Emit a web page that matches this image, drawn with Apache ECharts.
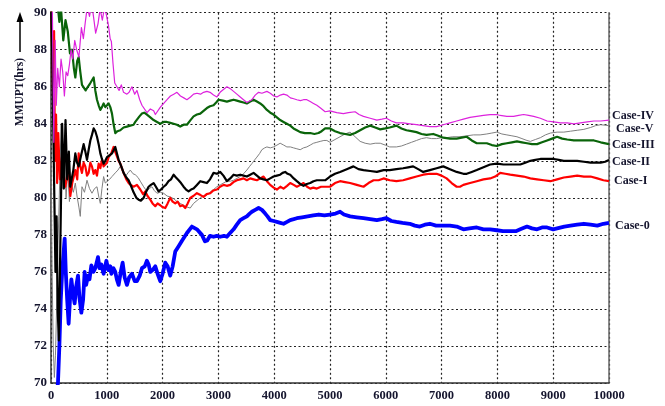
<!DOCTYPE html>
<html>
<head>
<meta charset="utf-8">
<script src="https://cdn.jsdelivr.net/npm/echarts@6/dist/echarts.min.js"></script>
<style>
html,body{margin:0;padding:0;background:#fff;}
#chart{width:665px;height:406px;}
</style>
</head>
<body>
<div id="chart"></div>
<script>
const seriesNames = ["Case-0", "Case-I", "Case-II", "Case-III", "Case-IV", "Case-V"];
const xTicks = [0, 1000, 2000, 3000, 4000, 5000, 6000, 7000, 8000, 9000, 10000];
const yTicks = [70, 72, 74, 76, 78, 80, 82, 84, 86, 88, 90];
const yTitle = "MMUPT(hrs)";

const case0 = [[100,69.5],[125,70],[150,72],[175,74.5],[200,76],[225,77],[245,77.8],[265,76],[290,74.5],[316,73.2],[340,74.5],[365,75.6],[395,74.8],[424,74.3],[450,75.2],[484,75.8],[510,74.6],[544,73.8],[575,74.5],[603,76.0],[630,75.3],[663,75.8],[690,75.6],[723,76.35],[760,76.0],[794,76.2],[842,76.8],[870,76.2],[902,76.4],[943,75.9],[992,76.6],[1030,76.1],[1063,76.3],[1082,75.9],[1120,76.2],[1152,76.0],[1180,75.6],[1212,75.3],[1250,76.0],[1284,76.5],[1320,75.7],[1361,75.3],[1400,75.7],[1451,75.9],[1500,75.5],[1540,75.5],[1590,75.8],[1630,76.2],[1680,76.3],[1719,76.6],[1750,76.4],[1779,76.0],[1820,76.1],[1869,76.3],[1910,75.9],[1958,75.5],[2000,75.9],[2048,76.5],[2090,76.3],[2137,75.8],[2180,76.3],[2227,77.1],[2290,77.4],[2350,77.7],[2436,78.1],[2525,78.45],[2615,78.3],[2704,78.0],[2760,77.65],[2800,77.7],[2850,77.95],[2913,77.9],[2970,77.95],[3033,77.9],[3100,77.95],[3152,77.9],[3210,78.1],[3272,78.3],[3330,78.55],[3391,78.8],[3450,78.9],[3510,79.0],[3560,79.15],[3600,79.25],[3660,79.35],[3720,79.45],[3780,79.35],[3839,79.15],[3880,79.0],[3928,78.8],[3990,78.75],[4048,78.7],[4110,78.65],[4167,78.6],[4230,78.7],[4287,78.8],[4350,78.85],[4406,78.9],[4500,78.95],[4600,79.0],[4700,79.05],[4800,79.1],[4900,79.05],[5000,79.1],[5100,79.15],[5180,79.25],[5250,79.1],[5360,79.0],[5480,78.95],[5600,78.9],[5720,78.85],[5840,78.8],[5930,78.85],[6010,78.9],[6100,78.75],[6190,78.7],[6300,78.65],[6430,78.6],[6520,78.5],[6610,78.45],[6700,78.55],[6790,78.6],[6900,78.5],[7030,78.5],[7150,78.5],[7270,78.45],[7390,78.3],[7500,78.35],[7630,78.4],[7750,78.3],[7870,78.3],[7990,78.25],[8100,78.2],[8230,78.2],[8330,78.2],[8410,78.3],[8530,78.45],[8620,78.35],[8710,78.3],[8800,78.4],[8890,78.4],[9000,78.3],[9070,78.35],[9200,78.45],[9310,78.5],[9430,78.55],[9550,78.6],[9670,78.55],[9790,78.5],[9900,78.6],[10000,78.65]];

const case1 = [[0,91],[20,88],[40,85],[55,89],[70,82],[90,84.5],[110,80.8],[130,83.5],[160,81],[197,82.2],[230,81],[257,80.6],[290,81.2],[316,81.7],[346,80.1],[380,80.8],[436,81.5],[470,81.0],[496,82.4],[525,81.7],[555,81.35],[585,81.9],[615,81.7],[645,81.2],[675,81.35],[705,81.9],[734,81.7],[764,81.3],[794,81.5],[824,81.2],[854,81.85],[884,81.6],[913,82.05],[943,81.7],[973,81.6],[1003,81.9],[1033,82.2],[1080,82.4],[1122,82.75],[1150,82.5],[1182,82.4],[1212,82.0],[1242,81.85],[1270,81.6],[1301,81.35],[1350,81.0],[1391,80.8],[1430,80.7],[1480,80.6],[1540,80.7],[1600,80.45],[1650,80.2],[1690,80.35],[1730,80.1],[1779,79.9],[1820,79.7],[1869,79.55],[1910,79.7],[1958,79.6],[2000,79.5],[2048,79.45],[2090,79.7],[2137,80.0],[2180,79.8],[2227,79.7],[2270,79.8],[2316,79.55],[2360,79.6],[2406,79.45],[2450,79.7],[2495,80.0],[2550,80.1],[2615,80.25],[2680,80.15],[2734,80.05],[2790,80.2],[2854,80.25],[2910,80.4],[2973,80.45],[3030,80.6],[3093,80.7],[3150,80.65],[3212,80.7],[3270,80.85],[3331,80.95],[3390,81.0],[3451,81.05],[3510,80.95],[3570,81.05],[3630,81.0],[3690,80.95],[3750,81.05],[3809,81.15],[3870,80.9],[3928,80.7],[3990,80.55],[4048,80.45],[4110,80.6],[4167,80.5],[4230,80.65],[4287,80.8],[4350,80.7],[4406,80.6],[4470,80.7],[4525,80.8],[4590,80.6],[4645,80.5],[4700,80.55],[4764,80.5],[4840,80.6],[4913,80.6],[5000,80.6],[5090,80.8],[5180,80.9],[5270,80.85],[5360,80.8],[5480,80.7],[5600,80.6],[5690,80.8],[5780,80.95],[5870,80.95],[5960,81.05],[6070,80.95],[6190,80.9],[6310,80.95],[6430,81.05],[6550,81.15],[6670,81.25],[6790,81.3],[6910,81.3],[7000,81.2],[7090,81.05],[7180,80.8],[7270,80.6],[7330,80.6],[7390,80.7],[7510,80.8],[7630,80.9],[7750,81.0],[7870,81.05],[7960,81.15],[8050,81.35],[8140,81.3],[8230,81.25],[8350,81.2],[8470,81.15],[8590,81.05],[8710,81.0],[8830,80.95],[8950,80.9],[9070,81.0],[9190,81.1],[9310,81.15],[9430,81.2],[9550,81.15],[9670,81.15],[9790,81.05],[9900,80.95],[10000,80.9]];

const case2 = [[0,90.5],[20,88],[40,84],[60,80],[80,76],[100,79],[120,74],[140,72.3],[160,76],[180,80],[200,84],[230,80.5],[260,84.2],[290,81],[320,82.5],[345,80.6],[376,80.6],[400,81.5],[436,82.4],[466,81.9],[496,81.7],[540,82.3],[585,82.9],[615,82.5],[645,82.05],[675,82.6],[705,83.1],[734,83.4],[764,83.75],[794,83.6],[824,83.3],[854,82.9],[884,82.4],[913,82.1],[943,81.85],[973,82.0],[1003,82.2],[1050,82.3],[1093,82.4],[1122,82.5],[1152,82.75],[1182,82.4],[1212,82.05],[1260,81.7],[1301,81.35],[1350,81.1],[1391,80.95],[1440,80.6],[1480,80.3],[1530,80.0],[1570,79.9],[1610,79.85],[1660,80.0],[1700,80.3],[1749,80.6],[1790,80.7],[1839,80.8],[1880,80.6],[1928,80.35],[1970,80.45],[2018,80.6],[2060,80.7],[2107,80.9],[2150,81.0],[2197,81.25],[2240,81.1],[2287,80.95],[2330,80.8],[2376,80.6],[2420,80.45],[2466,80.35],[2510,80.45],[2555,80.5],[2615,80.7],[2675,80.9],[2734,80.85],[2794,80.8],[2850,81.0],[2913,81.35],[2973,81.3],[3033,81.4],[3090,81.2],[3152,80.9],[3212,81.05],[3272,81.25],[3331,81.2],[3391,81.25],[3450,81.2],[3510,81.15],[3570,81.25],[3630,81.35],[3690,81.2],[3749,81.05],[3809,81.0],[3869,80.95],[3928,81.05],[3988,81.15],[4048,81.2],[4107,81.25],[4150,81.35],[4197,81.4],[4240,81.3],[4287,81.25],[4350,81.05],[4406,80.9],[4465,80.75],[4525,80.65],[4585,80.75],[4645,80.8],[4704,80.9],[4764,80.95],[4840,80.95],[4913,80.95],[5000,81.15],[5090,81.3],[5180,81.4],[5300,81.55],[5420,81.7],[5510,81.55],[5600,81.5],[5720,81.45],[5840,81.4],[5960,81.5],[6070,81.5],[6190,81.55],[6310,81.6],[6400,81.65],[6490,81.7],[6580,81.55],[6670,81.4],[6790,81.5],[6910,81.6],[7030,81.7],[7150,81.55],[7270,81.4],[7390,81.3],[7450,81.3],[7540,81.4],[7630,81.5],[7750,81.65],[7870,81.8],[7990,81.85],[8110,81.8],[8230,81.8],[8350,81.8],[8410,81.8],[8500,81.9],[8590,82.0],[8680,82.05],[8770,82.1],[8890,82.1],[9010,82.1],[9100,82.05],[9190,82.0],[9310,82.0],[9430,82.0],[9550,81.95],[9670,81.9],[9760,81.9],[9850,81.9],[9930,81.95],[10000,82.05]];

const case3 = [[100,91],[150,89.5],[180,90.2],[220,88.5],[260,89.6],[300,89.0],[340,87.8],[376,88.0],[410,87.0],[436,86.5],[470,87.4],[496,87.6],[525,86.8],[555,86.1],[590,86.0],[620,85.8],[660,86.0],[705,86.2],[735,86.35],[764,86.5],[794,85.8],[824,85.3],[854,85.0],[884,84.75],[913,84.9],[943,85.1],[973,84.9],[1003,85.0],[1033,85.1],[1063,84.9],[1093,84.55],[1120,84.0],[1152,83.5],[1190,83.6],[1242,83.65],[1300,83.8],[1361,83.85],[1420,83.9],[1480,83.95],[1510,84.1],[1540,84.2],[1585,84.4],[1630,84.55],[1670,84.6],[1719,84.5],[1780,84.35],[1839,84.2],[1900,84.1],[1958,84.0],[2018,84.1],[2078,84.1],[2137,84.05],[2197,84.0],[2257,83.95],[2316,83.85],[2376,83.95],[2436,83.95],[2500,84.2],[2555,84.4],[2615,84.5],[2675,84.55],[2734,84.7],[2794,84.85],[2850,84.95],[2913,85.0],[2960,85.15],[3003,85.3],[3080,85.25],[3152,85.2],[3212,85.25],[3272,85.3],[3331,85.25],[3391,85.2],[3450,85.15],[3510,85.1],[3570,85.2],[3630,85.3],[3690,85.2],[3749,85.1],[3809,84.95],[3869,84.75],[3930,84.6],[3988,84.5],[4048,84.35],[4107,84.2],[4167,84.1],[4227,84.0],[4287,83.9],[4346,83.75],[4406,83.65],[4466,83.55],[4550,83.5],[4645,83.5],[4720,83.45],[4794,83.5],[4850,83.6],[4913,83.75],[5000,83.75],[5090,83.6],[5180,83.5],[5270,83.45],[5360,83.4],[5450,83.5],[5540,83.65],[5630,83.8],[5720,83.9],[5810,83.8],[5900,83.7],[5990,83.75],[6070,83.8],[6190,83.9],[6280,83.75],[6370,83.65],[6460,83.6],[6550,83.55],[6640,83.45],[6730,83.4],[6850,83.45],[6940,83.35],[7030,83.25],[7150,83.2],[7270,83.2],[7360,83.25],[7450,83.3],[7540,83.1],[7630,82.95],[7720,82.95],[7810,82.95],[7900,82.85],[7990,82.8],[8080,82.9],[8170,82.95],[8260,83.0],[8350,83.05],[8440,83.0],[8530,82.95],[8620,82.9],[8710,82.9],[8800,83.0],[8890,83.1],[8980,83.2],[9070,83.3],[9160,83.2],[9250,83.15],[9370,83.1],[9490,83.1],[9610,83.1],[9730,83.1],[9850,83.0],[10000,82.9]];

const case4 = [[0,91],[25,90],[40,86],[50,83],[60,85.5],[75,88.5],[95,85],[120,87],[150,86],[180,87.5],[210,86.8],[240,85.5],[270,86.8],[300,86.6],[330,87.2],[360,88.0],[390,87.5],[425,88.5],[460,88.0],[500,87.6],[545,89.2],[580,88.6],[615,89.5],[650,90.3],[690,89.8],[730,90.5],[770,89.6],[800,88.9],[842,89.4],[880,90.2],[920,89.6],[960,90.3],[992,89.9],[1030,89.3],[1060,88.6],[1082,88.45],[1110,87.3],[1142,86.2],[1182,86.0],[1220,85.8],[1260,86.1],[1300,85.7],[1361,85.6],[1400,85.7],[1450,86.0],[1500,85.6],[1540,85.8],[1590,85.3],[1630,85.0],[1660,84.9],[1720,84.6],[1780,84.8],[1840,84.7],[1870,84.5],[1900,84.5],[1960,84.9],[2020,85.1],[2080,85.3],[2140,85.5],[2200,85.6],[2257,85.7],[2320,85.5],[2380,85.4],[2436,85.3],[2500,85.45],[2555,85.6],[2615,85.65],[2680,85.6],[2734,85.7],[2794,85.75],[2850,85.7],[2913,85.55],[2973,85.45],[3030,85.7],[3090,85.85],[3152,86.0],[3212,85.9],[3272,85.75],[3331,85.6],[3391,85.45],[3450,85.3],[3510,85.15],[3540,85.1],[3600,85.3],[3660,85.55],[3720,85.7],[3780,85.65],[3869,85.75],[3930,85.65],[3990,85.5],[4048,85.45],[4110,85.55],[4167,85.6],[4227,85.55],[4290,85.4],[4350,85.35],[4406,85.3],[4470,85.25],[4525,85.3],[4585,85.3],[4645,85.2],[4704,85.1],[4764,85.0],[4830,84.85],[4913,84.65],[5000,84.7],[5120,84.6],[5240,84.55],[5330,84.6],[5450,84.65],[5520,84.5],[5600,84.4],[5720,84.3],[5840,84.2],[5930,84.25],[6010,84.3],[6100,84.15],[6190,84.05],[6310,84.05],[6430,84.0],[6550,83.95],[6670,83.9],[6790,83.85],[6910,83.85],[7030,83.95],[7150,84.05],[7270,84.15],[7390,84.25],[7510,84.35],[7630,84.4],[7750,84.45],[7870,84.5],[7990,84.5],[8050,84.45],[8170,84.4],[8290,84.4],[8380,84.45],[8470,84.5],[8560,84.45],[8650,84.4],[8770,84.3],[8890,84.15],[9010,84.1],[9130,84.05],[9250,84.05],[9370,84.0],[9490,84.05],[9610,84.1],[9730,84.15],[9850,84.15],[10000,84.2]];

const case5 = [[0,82],[20,76],[40,72],[60,70.3],[80,71.5],[100,74],[120,77],[140,79],[160,81.5],[180,84],[200,82],[220,80.5],[240,82.5],[270,80],[300,81.5],[330,79.8],[360,80.8],[400,80.3],[436,80.8],[466,80.1],[500,79.5],[525,79.0],[555,80.6],[600,80.3],[645,80.95],[690,80.5],[734,80.25],[780,80.5],[824,80.6],[860,80.0],[884,79.7],[913,80.5],[943,81.15],[973,80.8],[1003,80.9],[1050,81.0],[1093,81.15],[1152,81.35],[1200,81.5],[1242,81.7],[1290,81.4],[1331,81.15],[1380,81.35],[1421,81.5],[1470,81.3],[1510,81.25],[1560,81.1],[1600,80.9],[1660,80.6],[1719,80.35],[1760,80.5],[1809,80.6],[1850,80.4],[1899,80.25],[1960,80.3],[2018,80.25],[2080,80.1],[2137,80.05],[2200,79.95],[2257,79.8],[2316,79.7],[2376,79.6],[2440,79.5],[2495,79.45],[2555,79.7],[2615,79.85],[2675,80.0],[2734,80.1],[2794,80.15],[2850,80.3],[2913,80.45],[2973,80.6],[3033,80.7],[3090,80.8],[3152,80.9],[3212,80.9],[3272,80.95],[3331,81.05],[3391,81.15],[3450,81.3],[3510,81.5],[3560,81.7],[3600,81.85],[3650,82.05],[3690,82.2],[3740,82.4],[3779,82.6],[3830,82.7],[3869,82.75],[3930,82.7],[3988,82.75],[4050,82.85],[4107,82.95],[4170,82.85],[4227,82.75],[4290,82.75],[4346,82.7],[4406,82.65],[4466,82.6],[4525,82.7],[4585,82.75],[4645,82.85],[4704,82.95],[4764,83.0],[4824,83.05],[4890,83.1],[4943,83.1],[5000,83.0],[5090,83.15],[5180,83.3],[5270,83.45],[5360,83.55],[5450,83.3],[5540,83.05],[5630,82.95],[5720,82.9],[5810,82.95],[5900,82.95],[5990,82.85],[6070,82.75],[6190,82.75],[6280,82.8],[6370,82.9],[6460,83.0],[6550,83.1],[6640,83.2],[6730,83.25],[6820,83.2],[6910,83.2],[7000,83.25],[7090,83.25],[7200,83.3],[7330,83.3],[7450,83.35],[7570,83.4],[7690,83.4],[7810,83.45],[7900,83.5],[7990,83.55],[8080,83.45],[8170,83.4],[8260,83.35],[8350,83.3],[8440,83.2],[8530,83.1],[8590,83.05],[8680,83.15],[8770,83.25],[8860,83.4],[8950,83.5],[9070,83.55],[9190,83.55],[9310,83.6],[9430,83.65],[9550,83.7],[9670,83.8],[9760,83.9],[9850,83.95],[10000,83.9]];

const FONT = '"Liberation Serif", "DejaVu Serif", serif';
const TXT = '#15152e';

function lineSeries(name, data, color, width, z, offset) {
  return {
    name: name, type: 'line', data: data, showSymbol: false, symbol: 'none',
    clip: true, z: z,
    lineStyle: { color: color, width: width, join: 'round' },
    endLabel: {
      show: true, formatter: name, distance: 3, offset: offset,
      fontFamily: FONT, fontWeight: 'bold', fontSize: 12, color: TXT
    },
    emphasis: { disabled: true }
  };
}

const chart = echarts.init(document.getElementById('chart'), null, { renderer: 'canvas' });
chart.setOption({
  animation: false,
  backgroundColor: '#fff',
  grid: { left: 51, right: 56, top: 12.7, bottom: 23, containLabel: false },
  xAxis: {
    type: 'value', min: xTicks[0], max: xTicks[xTicks.length - 1], interval: 1000,
    axisLine: { show: true, onZero: false, lineStyle: { color: '#333', width: 1.5 } },
    axisTick: { show: false },
    axisLabel: { fontFamily: FONT, fontWeight: 'bold', fontSize: 12.5, color: TXT, margin: 6,
      formatter: function (v) { return String(v); } },
    splitLine: { show: true, lineStyle: { color: '#222', width: 1.2, type: [2, 2.5] } }
  },
  yAxis: [{
    type: 'value', min: yTicks[0], max: yTicks[yTicks.length - 1], interval: 2,
    axisLine: { show: true, onZero: false, lineStyle: { color: '#333', width: 1.5 } },
    axisTick: { show: false },
    axisLabel: { fontFamily: FONT, fontWeight: 'bold', fontSize: 13, color: TXT, margin: 4,
      formatter: function (v) { return String(v); } },
    splitLine: { show: true, lineStyle: { color: '#222', width: 1.2, type: [2, 2.5] } }
  }, {
    type: 'value', min: yTicks[0], max: yTicks[yTicks.length - 1], interval: 2, position: 'right',
    axisLine: { show: true, onZero: false, lineStyle: { color: '#666', width: 1.5 } },
    axisTick: { show: false }, axisLabel: { show: false }, splitLine: { show: false }
  }],
  graphic: [
    { type: 'text', x: 20, y: 92, rotation: Math.PI / 2,
      style: { text: yTitle, font: 'bold 11.5px ' + FONT, fill: TXT, textAlign: 'center', textVerticalAlign: 'middle' } },
    { type: 'line', shape: { x1: 20, y1: 52, x2: 20, y2: 20 }, style: { stroke: '#000', lineWidth: 1.5 } },
    { type: 'polygon', shape: { points: [[20, 12], [16.5, 22], [23.5, 22]] }, style: { fill: '#000' } }
  ],
  series: [
    lineSeries(seriesNames[0], case0, '#0000ff', 3.8, 2, [3, 3]),
    lineSeries(seriesNames[5], case5, '#808080', 1.0, 3, [4, 3]),
    lineSeries(seriesNames[1], case1, '#ff0000', 2.2, 4, [2, 0]),
    lineSeries(seriesNames[2], case2, '#000000', 2.2, 5, [0, 2]),
    lineSeries(seriesNames[3], case3, '#0a640a', 2.2, 6, [0, 1]),
    lineSeries(seriesNames[4], case4, '#dd22dd', 1.2, 7, [0, -4])
  ]
});
</script>
</body>
</html>
